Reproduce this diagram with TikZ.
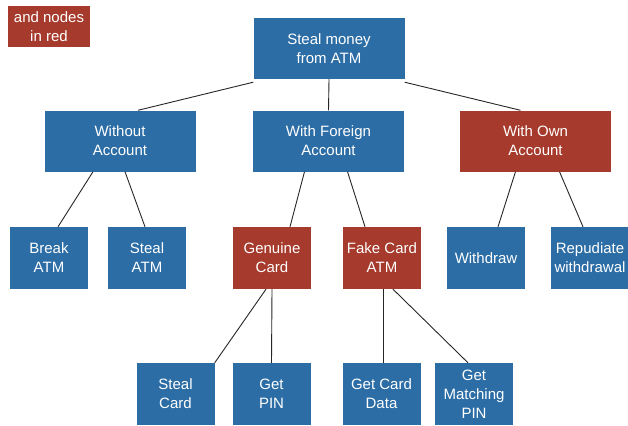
\documentclass[tikz,border=0pt]{standalone}
\usepackage{fontspec}
\setmainfont{Liberation Sans}
\usepackage{xcolor}
\usetikzlibrary{positioning}

\definecolor{atmblue}{HTML}{2C6DA5}
\definecolor{atmred}{HTML}{A63A2C}

\tikzset{
  goal/.style={fill=atmblue, text=white, minimum width=78pt, minimum height=62pt,
    inner sep=0pt, align=center, font=\fontsize{15}{19}\selectfont},
  widegoal/.style={goal, minimum width=151pt, minimum height=61pt},
  redgoal/.style={fill=atmred},
  link/.style={black!85, line width=0.9pt}
}

\begin{document}
\begin{tikzpicture}[x=1pt, y=-1pt]
  \useasboundingbox (0,0) rectangle (628,425);
  % legend
  \node[goal, redgoal, minimum width=82pt, minimum height=41pt] (legend) at (49,26.5) {and nodes\\in red};
  % root and first level
  \node[widegoal] (root) at (329,48.5) {Steal money\\from ATM};
  \node[widegoal] (without) at (120,141) {Without\\Account};
  \node[widegoal] (foreign) at (328.5,141) {With Foreign\\Account};
  \node[widegoal, redgoal] (own) at (535.5,141) {With Own\\Account};
  % second level
  \node[goal] (break) at (49,258) {Break\\ATM};
  \node[goal] (stealatm) at (147,258) {Steal\\ATM};
  \node[goal, redgoal] (genuine) at (272,258) {Genuine\\Card};
  \node[goal, redgoal] (fake) at (382,258) {Fake Card\\ATM};
  \node[goal] (withdraw) at (486,258) {Withdraw};
  \node[goal] (repudiate) at (590,258) {Repudiate\\withdrawal};
  % third level
  \node[goal] (stealcard) at (175.5,394) {Steal\\Card};
  \node[goal] (getpin) at (271.5,394) {Get\\PIN};
  \node[goal] (carddata) at (381.5,394) {Get Card\\Data};
  \node[goal] (matching) at (474,394) {Get\\Matching\\PIN};
  % links
  \draw[link] ([yshift=-3pt]root.south west) -- ([xshift=18pt]without.north);
  \draw[link] (root.south) -- (foreign.north);
  \draw[link] ([yshift=-3pt]root.south east) -- ([xshift=-15pt]own.north);
  \draw[link] ([xshift=-27pt]without.south) -- ([xshift=9pt]break.north);
  \draw[link] ([xshift=5pt]without.south) -- ([xshift=-2pt]stealatm.north);
  \draw[link] ([xshift=-24pt]foreign.south) -- ([xshift=18pt]genuine.north);
  \draw[link] ([xshift=19pt]foreign.south) -- ([xshift=-17pt]fake.north);
  \draw[link] ([xshift=-20pt]own.south) -- ([xshift=12pt]withdraw.north);
  \draw[link] ([xshift=24pt]own.south) -- ([xshift=-7pt]repudiate.north);
  \draw[link] ([xshift=-6pt]genuine.south) -- (stealcard.north east);
  \draw[link] (genuine.south) -- (getpin.north);
  \draw[link] ([xshift=1pt]fake.south) -- ([xshift=1.5pt]carddata.north);
  \draw[link] ([xshift=11pt]fake.south) -- ([xshift=-6pt]matching.north);
\end{tikzpicture}
\end{document}
